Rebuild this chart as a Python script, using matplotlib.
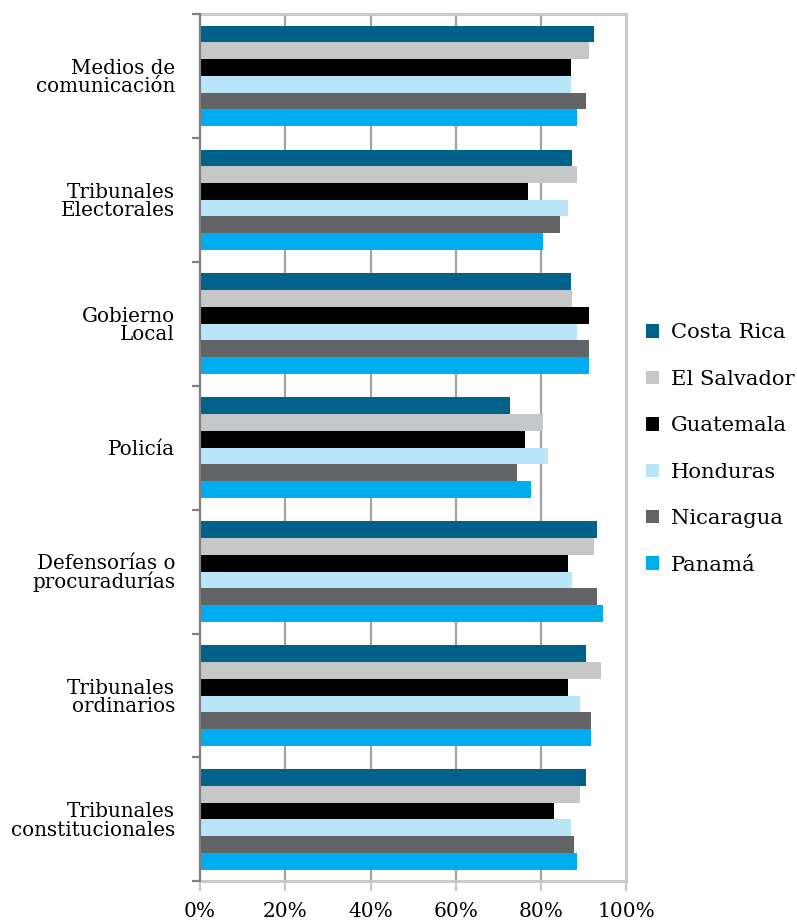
import matplotlib
matplotlib.use("Agg")
import matplotlib.pyplot as plt
import numpy as np
from matplotlib.patches import Patch

# Datos (porcentaje de confianza)
categorias = ["Medios de\ncomunicación", "Tribunales\nElectorales", "Gobierno\nLocal",
              "Policía", "Defensorías o\nprocuradurías", "Tribunales\nordinarios",
              "Tribunales\nconstitucionales"]
paises = ["Costa Rica", "El Salvador", "Guatemala", "Honduras", "Nicaragua", "Panamá"]
costa_rica = [92.3, 87.3, 86.9, 72.8, 93.0, 90.6, 90.5]
el_salvador = [91.3, 88.5, 87.3, 80.5, 92.3, 94.1, 89.1]
guatemala = [86.9, 76.8, 91.3, 76.1, 86.2, 86.2, 83.1]
honduras = [86.9, 86.2, 88.5, 81.7, 87.3, 89.1, 86.9]
nicaragua = [90.6, 84.5, 91.3, 74.4, 93.0, 91.8, 87.8]
panama = [88.5, 80.5, 91.3, 77.7, 94.6, 91.8, 88.5]
series = [costa_rica, el_salvador, guatemala, honduras, nicaragua, panama]
colores = ["#00628b", "#c6c7c9", "#000000", "#b9e5f9", "#636466", "#00aeef"]
ticks_x = [0, 20, 40, 60, 80, 100]

plt.rcParams['font.family'] = ['DejaVu Serif']

fig = plt.figure(figsize=(7.97, 9.22), dpi=100)
ax = fig.add_axes([0.251, 0.044, 0.535, 0.941])

y = np.arange(len(categorias))
h = 0.135
for j, (vals, col) in enumerate(zip(series, colores)):
    ax.barh(y + (j - 2.5) * h, vals, height=h, color=col, zorder=3)

ax.set_xlim(0, 100)
ax.set_ylim(len(categorias) - 0.5, -0.5)

# lineas de cuadricula
for gx in ticks_x[1:-1]:
    ax.axvline(gx, color="#a3a3a6", lw=1.6, zorder=1)

ax.set_xticks(ticks_x)
ax.set_xticklabels([str(t) + "%" for t in ticks_x], fontsize=14.5)
ax.tick_params(axis="x", length=7, width=1.6, color="#c8c8c8", pad=8)

ax.set_yticks(y)
ax.set_yticklabels(categorias, fontsize=14.3, linespacing=0.95)
ax.tick_params(axis="y", which="major", length=0, pad=18)
ax.set_yticks(np.arange(-0.5, len(categorias)), minor=True)
ax.tick_params(axis="y", which="minor", length=6, width=1.6, color="#7f7f7f")

for s in ["top", "right", "bottom"]:
    ax.spines[s].set_color("#c8c8c8")
    ax.spines[s].set_linewidth(2)
ax.spines["left"].set_color("#7f7f7f")
ax.spines["left"].set_linewidth(1.6)
ax.spines["left"].set_zorder(4)

handles = [Patch(facecolor=c, edgecolor="none") for c in colores]
fig.legend(handles, paises, loc="center left", bbox_to_anchor=(0.787, 0.513),
           frameon=False, fontsize=15.2, handlelength=0.6, handleheight=0.6,
           handletextpad=0.56, labelspacing=1.3)

plt.savefig("out.png", dpi=100)
